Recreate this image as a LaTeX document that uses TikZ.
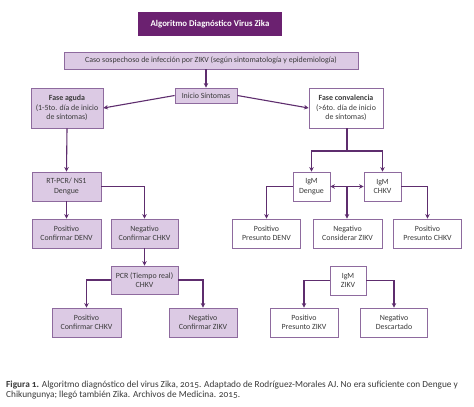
\documentclass[tikz,border=0pt]{standalone}
\usepackage{fontspec}
\setmainfont{Carlito}
\newfontfamily\capfont[Numbers=OldStyle]{Carlito}
\usetikzlibrary{arrows.meta,positioning}
\definecolor{titlepurple}{HTML}{6B2170}
\definecolor{lightpurple}{HTML}{DCCAE4}
\definecolor{borderpurple}{HTML}{8E6A9E}
\definecolor{arrowpurple}{HTML}{5E2D6E}
\definecolor{boxtext}{HTML}{3A3A3A}
\begin{document}
\begin{tikzpicture}[x=1pt,y=-1pt,
  base/.style={draw=borderpurple,line width=0.8pt,inner sep=1pt,align=center,
    font=\fontsize{7.9}{9.4}\selectfont,text=boxtext},
  lbox/.style={base,fill=lightpurple},
  wbox/.style={base,fill=white},
  tbox/.style={fill=titlepurple,text=white,font=\fontsize{8.8}{10}\selectfont\bfseries,inner sep=1pt},
  conn/.style={draw=arrowpurple,line width=1.1pt,-{Stealth[length=4.5pt,width=4.5pt]}},
  line/.style={draw=arrowpurple,line width=1.1pt}]
\useasboundingbox (0,0) rectangle (474,407);
\fill[white] (0,0) rectangle (474,407);

\node[tbox,minimum width=144pt,minimum height=24pt] (title) at (210,24) {Algoritmo Diagnóstico Virus Zika};
\node[lbox,minimum width=294pt,minimum height=17pt] (caso) at (211,60.5) {Caso sospechoso de infección por ZIKV (según sintomatología y epidemiología)};
\node[lbox,minimum width=62pt,minimum height=15pt] (inicio) at (206,95.5) {Inicio Síntomas};
\node[lbox,minimum width=72pt,minimum height=40pt] (aguda) at (67,108) {\textbf{Fase aguda}\\(1-5to. día de inicio\\de síntomas)};
\node[wbox,minimum width=74pt,minimum height=40pt] (conv) at (346,108) {\textbf{Fase convalencia}\\(>6to. día de inicio\\de síntomas)};

\node[lbox,minimum width=69pt,minimum height=29pt] (rtpcr) at (66.5,186.5) {RT-PCR/ NS1\\Dengue};
\node[lbox,minimum width=69pt,minimum height=29pt] (posdenv) at (66.5,233.5) {Positivo\\Confirmar DENV};
\node[lbox,minimum width=67pt,minimum height=29pt] (negchkv) at (144.5,233.5) {Negativo\\Confirmar CHKV};
\node[lbox,minimum width=67pt,minimum height=28pt] (pcr) at (144.5,280) {PCR (Tiempo real)\\CHKV};
\node[lbox,minimum width=69pt,minimum height=29pt] (poschkv) at (86.5,322.5) {Positivo\\Confirmar CHKV};
\node[lbox,minimum width=68pt,minimum height=29pt] (negzikv) at (203,322.5) {Negativo\\Confirmar ZIKV};

\node[wbox,minimum width=37pt,minimum height=29pt] (igmd) at (311.5,186.5) {IgM\\Dengue};
\node[wbox,minimum width=37pt,minimum height=29pt] (igmc) at (382.5,186.5) {IgM\\CHKV};
\node[wbox,minimum width=68pt,minimum height=29pt] (presdenv) at (266.5,233.5) {Positivo\\Presunto DENV};
\node[wbox,minimum width=69pt,minimum height=29pt] (consz) at (347.5,233.5) {Negativo\\Considerar ZIKV};
\node[wbox,minimum width=68pt,minimum height=29pt] (preschkv) at (427.5,233.5) {Positivo\\Presunto CHKV};
\node[wbox,minimum width=36pt,minimum height=29pt] (igmz) at (348,280.5) {IgM\\ZIKV};
\node[wbox,minimum width=68pt,minimum height=29pt] (preszikv) at (304,322.5) {Positivo\\Presunto ZIKV};
\node[wbox,minimum width=67pt,minimum height=29pt] (desc) at (394,322.5) {Negativo\\Descartado};

\coordinate (split) at (347,151);
\coordinate (mid) at (347,186.5);

\draw[conn] (caso.south -| inicio) -- (inicio.north);
\draw[conn] (inicio.west) -- (aguda.east);
\draw[conn] (inicio.east) -- (conv.west);
\draw[conn] (aguda.south) -- (rtpcr.north);
\draw[conn] (rtpcr.south) -- (posdenv.north);
\draw[conn] (rtpcr.east) -| (negchkv.north);
\draw[conn] (negchkv.south) -- (pcr.north);
\draw[conn] (pcr.west) -| (poschkv.north);
\draw[conn] (pcr.east) -| (negzikv.north);

\draw[line] (conv.south -| split) -- (split);
\draw[conn] (split) -| (igmd.north);
\draw[conn] (split) -| (igmc.north);
\draw[conn] (mid) -- (igmd.east);
\draw[conn] (mid) -- (igmc.west);
\draw[conn] (mid) -- (consz.north -| mid);
\draw[conn] (igmd.west) -| (presdenv.north);
\draw[conn] (igmc.east) -| (preschkv.north);
\draw[conn] (igmz.west) -| (preszikv.north);
\draw[conn] (igmz.east) -| (desc.north);

\node[anchor=north west,inner sep=0pt,align=left,text=boxtext,
  font=\capfont\fontsize{9.3}{9.6}\selectfont] (caption) at (6,381)
  {\textbf{Figura 1.} Algoritmo diagnóstico del virus Zika, 2015. Adaptado de Rodríguez-Morales AJ. No era suficiente con Dengue y\\
   Chikungunya; llegó también Zika. Archivos de Medicina. 2015.};
\end{tikzpicture}
\end{document}
